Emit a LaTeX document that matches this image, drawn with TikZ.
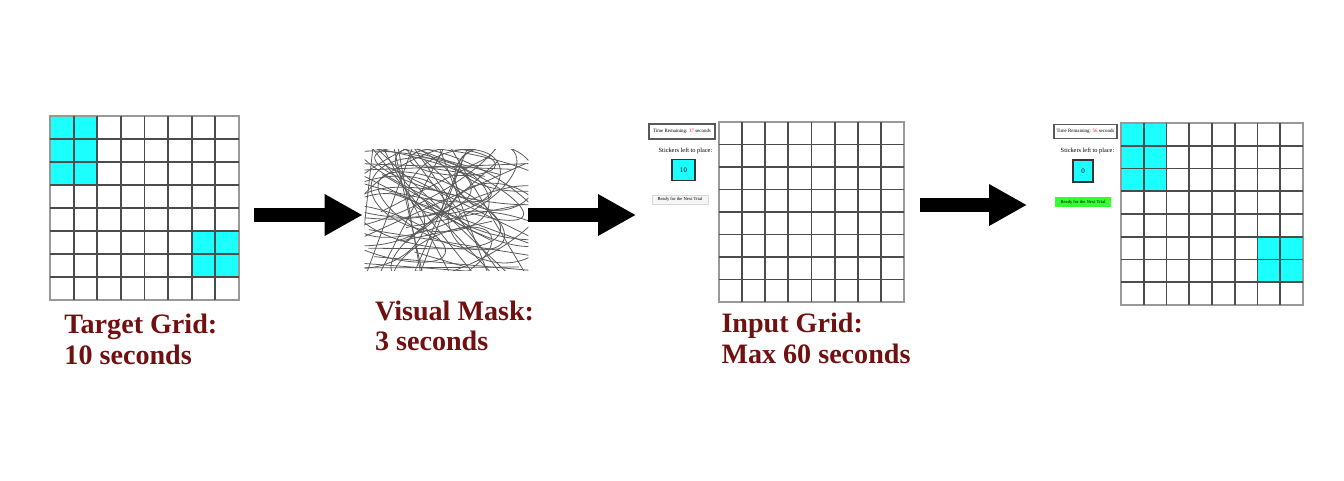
\documentclass[tikz,border=0pt]{standalone}
\usepackage{fontspec}
\setmainfont{Liberation Serif}
\usepackage{tikz}
\usetikzlibrary{arrows.meta}
\usetikzlibrary{positioning}
\definecolor{labelred}{HTML}{701010}
\definecolor{stickcyan}{HTML}{1CFFFF}
\definecolor{readygreen}{HTML}{33FF33}
\tikzset{gridline/.style={draw=black!70,line width=1.1pt}}
\tikzset{gridframe/.style={rectangle,draw=black!40,line width=1pt,inner sep=0pt}}
\tikzset{bigarrow/.style={line width=0.28cm,-{Triangle[length=0.76cm,width=0.78cm]}}}
\tikzset{steplabel/.style={text=labelred,font=\fontsize{16}{17.5}\selectfont\bfseries,align=left,inner sep=0pt}}
\tikzset{scribble/.style={draw=black!65,line width=0.45pt}}
\tikzset{tinytext/.style={inner sep=0pt,font=\fontsize{3.6}{4}\selectfont}}
\tikzset{timebox/.style={rectangle,draw=black!65,line width=1.1pt,fill=white,inner sep=0pt,font=\fontsize{2.8}{3}\selectfont}}
\tikzset{countbox/.style={rectangle,draw=black!80,line width=1.1pt,fill=stickcyan,inner sep=0pt,font=\fontsize{4}{4}\selectfont}}
\tikzset{readybtn/.style={rectangle,inner sep=0pt,line width=0.3pt,font=\fontsize{2.6}{3}\selectfont}}
% x0 y0 w h : inner lines of an 8x8 grid
\newcommand{\gridlines}[4]{%
  \foreach \i in {1,...,7} {
    \draw[gridline] ({#1+\i*#3},#2) -- ({#1+\i*#3},{#2+8*#4});
    \draw[gridline] (#1,{#2+\i*#4}) -- ({#1+8*#3},{#2+\i*#4});
  }}
\begin{document}
\begin{tikzpicture}[x=0.02cm,y=-0.02cm]
    \useasboundingbox (0,0) rectangle (1344,480);
    % target grid
    \foreach \c/\r in {0/0,1/0,0/1,1/1,0/2,1/2,6/5,7/5,6/6,7/6}
        \fill[stickcyan] ({50+\c*23.625},{116+\r*23}) rectangle +(23.625,23);
    \node[gridframe, minimum width=3.78cm, minimum height=3.68cm] (target) at (144.5,208) {};
    \gridlines{50}{116}{23.625}{23}
    \node[steplabel, below right=0.26cm and 0.3cm of target.south west] (targetlbl) {Target Grid:\\10 seconds};
    % visual mask
    \node[inner sep=0pt, minimum width=3.26cm, minimum height=2.4cm] (mask) at (446.5,210) {};
    \begin{scope}
    \clip (mask.north west) rectangle (mask.south east);
    \pgfmathsetseed{7}
    \foreach \k in {1,...,24} {
        \pgfmathsetmacro{\xa}{345+90*rnd}
        \pgfmathsetmacro{\ya}{140+140*rnd}
        \pgfmathsetmacro{\xb}{460+90*rnd}
        \pgfmathsetmacro{\yb}{140+140*rnd}
        \draw[scribble] (\xa,\ya) -- (\xb,\yb);
    }
    \foreach \k in {1,...,12} {
        \pgfmathsetmacro{\xa}{355+180*rnd}
        \pgfmathsetmacro{\xb}{355+180*rnd}
        \draw[scribble] (\xa,140) -- (\xb,280);
    }
    \foreach \k in {1,...,22} {
        \pgfmathsetmacro{\cx}{370+150*rnd}
        \pgfmathsetmacro{\cy}{160+100*rnd}
        \pgfmathsetmacro{\rx}{40+60*rnd}
        \pgfmathsetmacro{\ry}{10+30*rnd}
        \pgfmathsetmacro{\rot}{-30+60*rnd}
        \draw[scribble, rotate around={\rot:(\cx,\cy)}] (\cx,\cy) ellipse ({\rx} and {\ry});
    }
    \end{scope}
    \node[steplabel, below right=0.6cm and 0.2cm of mask.south west] (masklbl) {Visual Mask:\\3 seconds};
    % input grid with its side panel
    \node[timebox, minimum width=1.32cm, minimum height=0.3cm] (timeA) at (682,131.5) {Time Remaining: \textcolor{red}{37} seconds};
    \node[tinytext] (stickA) at (685.5,151) {Stickers left to place:};
    \node[countbox, minimum width=0.46cm, minimum height=0.42cm] (countA) at (683.5,170) {10};
    \node[readybtn, fill=black!4, draw=black!15, minimum width=1.12cm, minimum height=0.18cm] (readyA) at (680,199.5) {Ready for the Next Trial};
    \node[gridframe, minimum width=3.7cm, minimum height=3.6cm] (input) at (811.5,212) {};
    \gridlines{719}{122}{23.125}{22.5}
    \node[steplabel, below right=0.2cm and 0.06cm of input.south west] (inputlbl) {Input Grid:\\Max 60 seconds};
    % filled grid
    \node[timebox, minimum width=1.26cm, minimum height=0.28cm] (timeB) at (1085.5,131.5) {Time Remaining: \textcolor{red}{56} seconds};
    \node[tinytext] (stickB) at (1087.5,151) {Stickers left to place:};
    \node[countbox, minimum width=0.4cm, minimum height=0.44cm] (countB) at (1083,171) {0};
    \node[readybtn, fill=readygreen, minimum width=1.12cm, minimum height=0.2cm] (readyB) at (1083,202) {Ready for the Next Trial};
    \foreach \c/\r in {0/0,1/0,0/1,1/1,0/2,1/2,6/5,7/5,6/6,7/6}
        \fill[stickcyan] ({1121+\c*22.75},{123+\r*22.75}) rectangle +(22.75,22.75);
    \node[gridframe, minimum width=3.64cm, minimum height=3.64cm] (result) at (1212,214) {};
    \gridlines{1121}{123}{22.75}{22.75}
    % arrows
    \draw[bigarrow, shorten <=0.28cm, shorten >=0.04cm] ([yshift=-0.14cm]target.east) -- ([yshift=-0.14cm]target.east -| mask.west);
    \draw[bigarrow, shorten >=0.24cm] ([yshift=-0.1cm]mask.east) -- ([yshift=-0.1cm]mask.east -| timeA.west);
    \draw[bigarrow, shorten <=0.3cm, shorten >=0.52cm] ([yshift=0.14cm]input.east) -- ([yshift=0.14cm]input.east -| timeB.west);
\end{tikzpicture}
\end{document}
